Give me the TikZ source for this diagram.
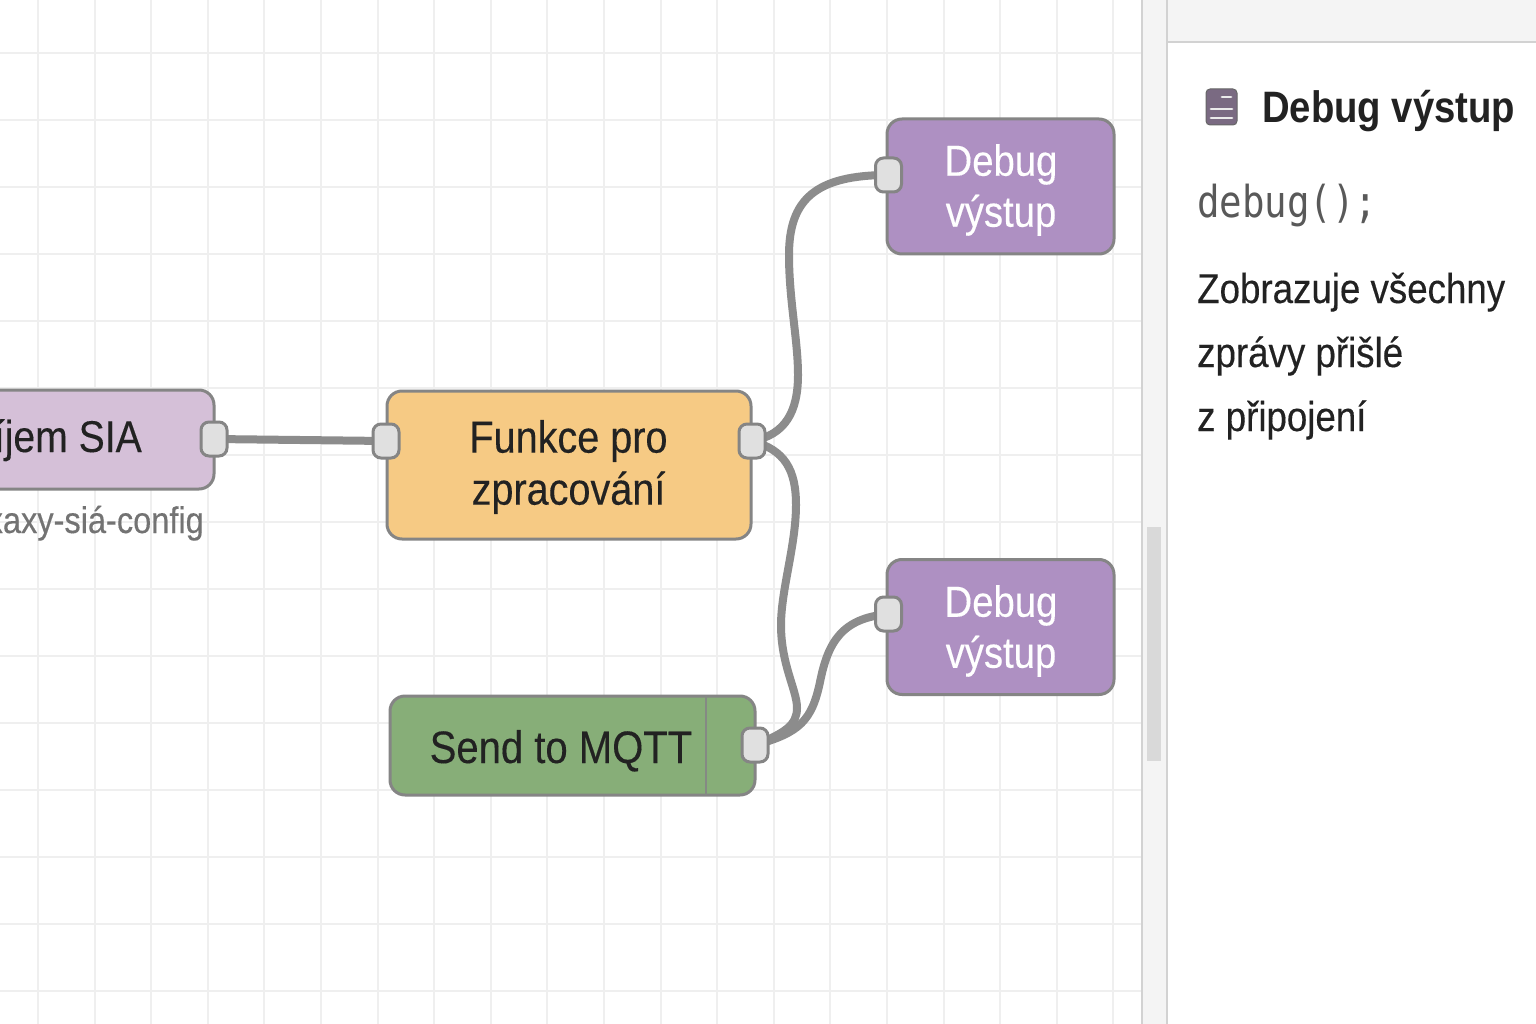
\documentclass[tikz,border=0pt]{standalone}
\usepackage{fontspec}
\setmainfont{Liberation Sans}
\newfontfamily\labf[FakeStretch=0.88,FakeBold=0.25]{Liberation Sans}
\newfontfamily\labb[FakeStretch=0.87,BoldFont={Liberation Sans Bold}]{Liberation Sans}
\newfontfamily\monof[FakeStretch=0.85]{DejaVu Sans Mono}
\definecolor{gridc}{HTML}{EFEFEF}
\definecolor{edgec}{HTML}{858585}
\definecolor{wirec}{HTML}{8C8C8C}
\definecolor{portc}{HTML}{E0E0E0}
\definecolor{sidec}{HTML}{F4F4F4}
\definecolor{linec}{HTML}{D2D2D2}
\definecolor{purplec}{HTML}{AE90C2}
\definecolor{yellowc}{HTML}{F6CA84}
\definecolor{greenc}{HTML}{87AE78}
\definecolor{lilacc}{HTML}{D5C0D8}
\definecolor{inkc}{HTML}{222222}
\definecolor{iconc}{HTML}{7A6A82}
\pgfdeclarelayer{canvasgrid}
\pgfdeclarelayer{wires}
\pgfsetlayers{canvasgrid,wires,main}
\tikzset{
  flownode/.style={draw=edgec,line width=3pt,rounded corners=15pt,inner sep=0pt,align=center,text=inkc},
  funcfont/.style={font=\labf\fontsize{45}{52}\selectfont},
  debugfont/.style={font=\labf\fontsize{43.5}{51}\selectfont},
  portbox/.style={draw=edgec,fill=portc,line width=3pt,rounded corners=8pt,minimum width=26pt,minimum height=34pt,inner sep=0pt},
  wire/.style={draw=wirec,line width=8pt,line cap=round},
  bodytext/.style={anchor=base west,inner sep=0pt,text=inkc,font=\labf\fontsize{41.7}{50}\selectfont},
  iconbar/.style={draw=white!92!black,line width=2.8pt,line cap=round}
}
\begin{document}
\begin{tikzpicture}[x=1pt,y=-1pt]
\useasboundingbox (0,0) rectangle (1536,1024);
\begin{pgfonlayer}{canvasgrid}
  \fill[white] (0,0) rectangle (1536,1024);
  \foreach \i in {0,...,19} {
    \draw[gridc,line width=2pt] ({38+56.6*\i},0) -- ({38+56.6*\i},1024);
  }
  \foreach \i in {0,...,14} {
    \draw[gridc,line width=2pt] (0,{53+67*\i}) -- (1142,{53+67*\i});
  }
  \fill[sidec] (1142,0) rectangle (1167,1024);
  \fill[white] (1167,0) rectangle (1536,1024);
  \fill[sidec] (1167,0) rectangle (1536,42);
  \draw[linec,line width=2.5pt] (1167,42) -- (1536,42);
  \draw[linec,line width=2.5pt] (1142,0) -- (1142,1024);
  \draw[linec,line width=2.5pt] (1167,0) -- (1167,1024);
  \fill[linec!85!white] (1147,527) rectangle (1161,761);
\end{pgfonlayer}

% nodes
\node[flownode,fill=lilacc,minimum width=260pt,minimum height=99pt] (sia) at (84,439.5) {};
\node[anchor=base east,inner sep=0pt,text=inkc,font=\labf\fontsize{44.5}{52}\selectfont] (siatext) at (142,452) {íjem SIA};
\node[anchor=base east,inner sep=0pt,text=black!55,font=\labf\fontsize{37}{46}\selectfont] (siasub) at (204,533) {xaxy-siá-config};
\node[flownode,fill=yellowc,minimum width=364pt,minimum height=148pt] (func) at (569,465) {};
\node[funcfont,text=inkc,align=center,inner sep=0pt] (functext) at (568.5,467) {Funkce pro\\zpracování};
\node[flownode,fill=greenc,minimum width=365pt,minimum height=99pt] (mqtt) at (572.5,745.5) {};
\node[anchor=base,inner sep=0pt,text=inkc,font=\labf\fontsize{45.5}{52}\selectfont] (mqtttext) at (561,763) {Send to MQTT};
\draw[edgec!90!greenc,line width=2pt] (706,696) -- (706,795);
\node[flownode,fill=purplec,minimum width=227pt,minimum height=135pt] (dbgA) at (1000.5,186.5) {};
\node[debugfont,text=white,align=center,inner sep=0pt] (dbgAt) at (1001,190) {Debug\\výstup};
\node[flownode,fill=purplec,minimum width=227pt,minimum height=135pt] (dbgB) at (1000.5,627) {};
\node[debugfont,text=white,align=center,inner sep=0pt] (dbgBt) at (1001,631) {Debug\\výstup};

% ports
\node[portbox] (pSia) at (214,439) {};
\node[portbox] (pFuncIn) at (386,441) {};
\node[portbox] (pFuncOut) at (752,441) {};
\node[portbox] (pMqtt) at (755,745) {};
\node[portbox] (pA) at (888.5,175) {};
\node[portbox] (pB) at (888.5,614) {};

% wires
\begin{pgfonlayer}{wires}
  \draw[wire] (pSia.center) -- (pFuncIn.center);
  \draw[wire] (pFuncOut.center) .. controls (785,435) and (798,412) .. (798,375)
     .. controls (798,340) and (789,300) .. (789,255)
     .. controls (789,200) and (815,175) .. (pA.center);
  \draw[wire] (pFuncOut.center) .. controls (785,450) and (796,470) .. (796,505)
     .. controls (796,545) and (781,590) .. (781,625)
     .. controls (781,665) and (797,690) .. (797,708)
     .. controls (797,725) and (785,733) .. (pMqtt.center);
  \draw[wire] (pMqtt.center) .. controls (800,733) and (812,720) .. (820,682)
     .. controls (828,642) and (842,618) .. (pB.center);
\end{pgfonlayer}

% sidebar
\draw[draw=black!60,fill=iconc,rounded corners=4pt,line width=1pt] (1206,89) rectangle (1237,125);
\draw[iconbar] (1222,97) -- (1231,97);
\draw[iconbar] (1211,109) -- (1232,109);
\draw[iconbar] (1211,118) -- (1232,118);
\node[anchor=base west,inner sep=0pt,text=inkc,font=\labb\bfseries\fontsize{44}{52}\selectfont] (head) at (1262,123) {Debug výstup};
\node[anchor=base west,inner sep=0pt,text=black!65,font=\monof\fontsize{44}{52}\selectfont] (code) at (1197,218) {debug();};
\node[bodytext] (l1) at (1197,303) {Zobrazuje všechny};
\node[bodytext] (l2) at (1197,367) {zprávy přišlé};
\node[bodytext] (l3) at (1197,431) {z připojení};
\end{tikzpicture}
\end{document}
